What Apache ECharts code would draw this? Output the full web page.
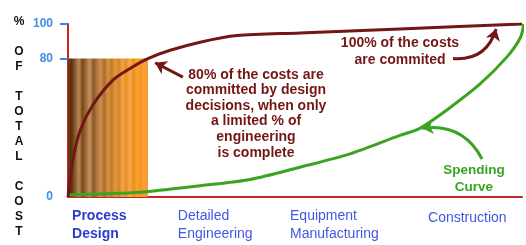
<!DOCTYPE html>
<html><head><meta charset="utf-8">
<script src="https://cdn.jsdelivr.net/npm/echarts@6/dist/echarts.min.js"></script>
<style>html,body{margin:0;padding:0;background:#fff}#c{width:526px;height:245px}</style>
</head><body><div id="c"></div>
<script>
// ---- data ----
const phaseLabels = ['Process\nDesign', 'Detailed\nEngineering', 'Equipment\nManufacturing', 'Construction'];
const phasePos = [0.9, 24.2, 48.9, 79.3];
const yTickLabels = [0, 80, 100];
const yTickMarks = [80, 100];
const committedX = [0, 0.2, 0.5, 1.1, 2.6, 5.5, 9.9, 14.3, 17.6, 22.5, 29.1, 37.2, 51.1, 73.1, 100];
const committedY = [0, 5, 11, 21.9, 37.9, 53.3, 67.6, 75.3, 80, 84.8, 89.5, 93.3, 94.8, 97.1, 100];
const spendingX = [0, 7.0, 15.9, 29.1, 40.1, 51.1, 62.1, 73.1, 77.5, 84.1, 90.7, 96.7, 99.6, 100.4];
const spendingY = [1.2, 1.8, 2.7, 6.5, 10.1, 17.2, 24.9, 35.6, 39.7, 51.6, 65.2, 81, 91.9, 100];
const designPhaseEnd = 17.6;
const designCommitted = 80;
const arrowCommit80 = [[25.3, 69.3], [19.2, 77.6]];
const arrowCommit100 = [[84.8, 80], [94.3, 97.1]];
const arrowSpending = [[91.2, 22], [78, 39.7]];
const note80 = '80% of the costs are\ncommitted by design\ndecisions, when only\na limited % of\nengineering\nis complete';
const note100 = '100% of the costs\nare commited';
const noteSpend = 'Spending\nCurve';
const yTitle = '%\n\nO\nF\n\nT\nO\nT\nA\nL\n\nC\nO\nS\nT';

// ---- chart ----
const zip = (xs, ys) => xs.map((x, i) => [x, ys[i]]);
const stripeColors = ['#6a3c12','#5a3210','#8c5c2c','#b88a58','#7a4818','#a06c3a','#c4935e','#8a5826','#b07a3c','#cc8e4a','#a86e2e','#d8923e','#c27a2a','#e4983a','#d08630','#f2a444','#e68e24','#f8aa4a','#ee8e1c','#f9a232','#f59424','#f8a53a','#f59020'];
const stops = stripeColors.map((c, i) => ({ offset: i / (stripeColors.length - 1), color: c }));
const DR = '#731616', GR = '#3aa322';

function arrowSeries(pts, color, curveness) {
  return {
    type: 'lines', coordinateSystem: 'cartesian2d', z: 5, silent: true,
    symbol: ['none', 'arrow'], symbolSize: 11,
    lineStyle: { type: 'solid', width: 3, color: color, curveness: curveness, opacity: 1 },
    itemStyle: { color: color },
    data: [{ coords: pts }]
  };
}

const chart = echarts.init(document.getElementById('c'), null, { renderer: 'canvas' });
chart.setOption({
  animation: false,
  title: {
    text: yTitle, left: 14, top: 9, textAlign: 'center',
    textStyle: { fontFamily: 'Liberation Sans', fontSize: 12, fontWeight: 'bold', color: '#111', lineHeight: 15 }
  },
  grid: { left: 68, right: 4, top: 24, bottom: 48 },
  xAxis: {
    type: 'value', min: 0, max: 100,
    axisLine: { lineStyle: { color: '#c4262a', width: 2 } },
    axisTick: { show: false }, splitLine: { show: false },
    axisLabel: {
      customValues: phasePos, align: 'left', margin: 10, showMinLabel: true, showMaxLabel: true,
      fontFamily: 'Liberation Sans', fontSize: 14, lineHeight: 18, color: '#4556e0',
      formatter: v => {
        const i = phasePos.findIndex(p => Math.abs(p - v) < 1e-6);
        const t = phaseLabels[i] || '';
        if (i === 0) return t.split('\n').map(s => '{b|' + s + '}').join('\n');
        if (i === 3) return '{c|' + t + '}';
        return t;
      },
      rich: {
        b: { fontFamily: 'Liberation Sans', fontSize: 14, fontWeight: 'bold', color: '#2a3cd0', lineHeight: 18 },
        c: { fontFamily: 'Liberation Sans', fontSize: 14, color: '#4556e0', lineHeight: 18, padding: [4, 0, 0, 0] }
      }
    }
  },
  yAxis: {
    type: 'value', min: 0, max: 100,
    axisLine: { show: true, lineStyle: { color: '#d42020', width: 2 } },
    splitLine: { show: false },
    axisTick: { show: true, customValues: yTickMarks, length: 8, lineStyle: { color: '#2b86f0', width: 2 } },
    axisLabel: { customValues: yTickLabels, margin: 15, fontFamily: 'Liberation Sans', fontSize: 12, fontWeight: 'bold', color: '#3d8fe4' }
  },
  series: [
    {
      type: 'line', data: [], z: 1,
      markArea: {
        silent: true,
        itemStyle: { color: new echarts.graphic.LinearGradient(0, 0, 1, 0, stops), opacity: 1 },
        data: [[{ coord: [0, designCommitted] }, { coord: [designPhaseEnd, 0] }]]
      }
    },
    {
      type: 'line', data: zip(spendingX, spendingY), smooth: 0.3, showSymbol: false, z: 3,
      lineStyle: { color: GR, width: 3 }
    },
    {
      type: 'line', data: zip(committedX, committedY), smooth: 0.3, showSymbol: false, z: 4,
      lineStyle: { color: DR, width: 3 }
    },
    arrowSeries(arrowCommit80, DR, 0),
    arrowSeries(arrowCommit100, DR, -0.4),
    arrowSeries(arrowSpending, GR, -0.35)
  ],
  graphic: [
    { type: 'text', x: 256, y: 67, style: { text: note80, align: 'center', font: 'bold 14px "Liberation Sans"', fill: DR, lineHeight: 15.6 } },
    { type: 'text', x: 400, y: 35, style: { text: note100, align: 'center', font: 'bold 14px "Liberation Sans"', fill: DR, lineHeight: 17 } },
    { type: 'text', x: 474, y: 162, style: { text: noteSpend, align: 'center', font: 'bold 13.5px "Liberation Sans"', fill: GR, lineHeight: 17 } }
  ]
});
</script></body></html>
